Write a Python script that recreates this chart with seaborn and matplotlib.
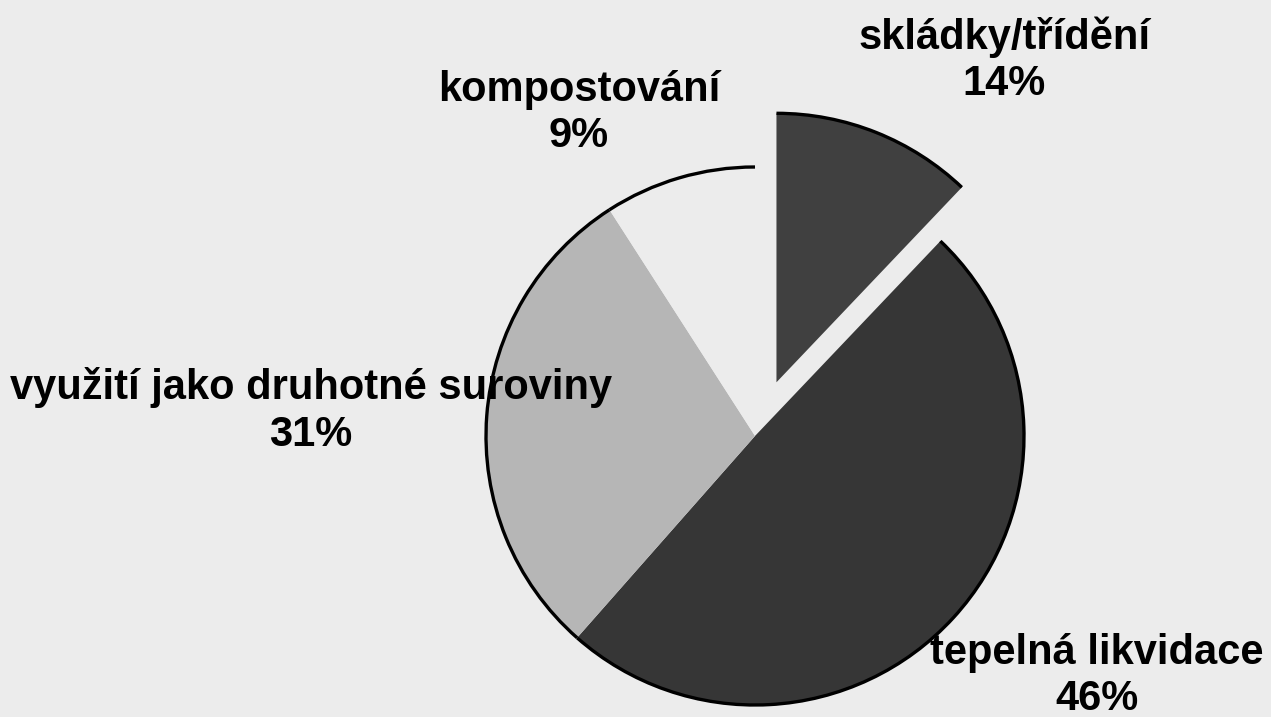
import matplotlib.pyplot as plt
import seaborn as sns
from matplotlib.patches import Arc

labels = ["skládky/třídění", "tepelná likvidace", "využití jako druhotné suroviny", "kompostování"]
# slice sizes as drawn
shares = [12.1, 49.4, 29.4, 9.1]
# percentages as printed in the labels
pct_labels = ["14%", "46%", "31%", "9%"]
colors = ["#404040", "#363636", "#b6b6b6", "#ececec"]
explode_frac = [0.215, 0, 0, 0]

# label anchor points in pixel coordinates (y measured from bottom)
label_xy = [(1004, 657), (1097, 41), (311, 306), (579, 604)]

sns.set_style("white", {"axes.facecolor": "#ececec", "figure.facecolor": "#ececec"})
plt.rcParams["font.family"] = ["Liberation Sans", "DejaVu Sans"]

radius = 269
fig = plt.figure(figsize=(12.71, 7.17), dpi=100)
ax = fig.add_axes([0, 0, 1, 1])

# pie's explode is in data units, so scale it by the radius
wedges, _ = ax.pie(
    shares,
    colors=colors,
    explode=[e * radius for e in explode_frac],
    startangle=90,
    counterclock=False,
    center=(755, 281),
    radius=radius,
    wedgeprops={"linewidth": 0},
    frame=True,
)
ax.set_xlim(0, 1271)
ax.set_ylim(0, 717)
ax.set_aspect("equal")
ax.axis("off")

# outline only the outer arcs
for w in wedges:
    ax.add_patch(Arc(w.center, 2 * w.r, 2 * w.r, theta1=w.theta1, theta2=w.theta2,
                     color="black", lw=2.4, zorder=3))

for name, pct, (x, y) in zip(labels, pct_labels, label_xy):
    ax.text(x, y, f"{name}\n{pct}", ha="center", va="center", fontsize=30,
            fontweight="bold", linespacing=1.2, color="black", zorder=4)

fig.savefig("out.png", dpi=100, facecolor="#ececec")
